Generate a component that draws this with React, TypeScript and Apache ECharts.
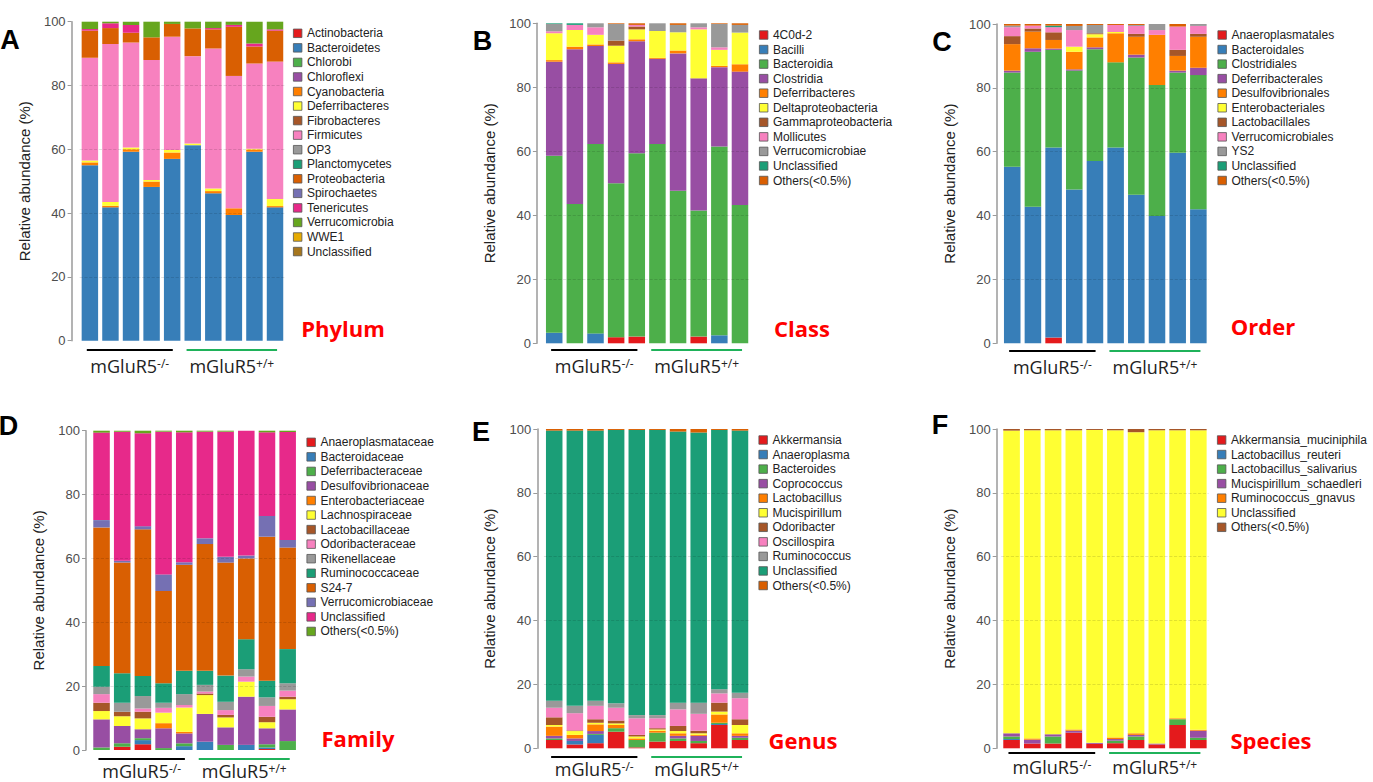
import React, { useEffect, useRef } from "react";
import * as echarts from "echarts";

// ---------------- data ----------------
const samples = ["KO1", "KO2", "KO3", "KO4", "KO5", "WT1", "WT2", "WT3", "WT4", "WT5"];
const groupSup = ["-/-", "+/+"];
const groupBase = "mGluR5";

const phylumTaxa = ["Actinobacteria", "Bacteroidetes", "Chlorobi", "Chloroflexi", "Cyanobacteria", "Deferribacteres", "Fibrobacteres", "Firmicutes", "OP3", "Planctomycetes", "Proteobacteria", "Spirochaetes", "Tenericutes", "Verrucomicrobia", "WWE1", "Unclassified"];
const phylumValues = [
  [0, 0, 0, 0, 0, 0, 0, 0, 0, 0],
  [55, 41.8, 59.2, 48.2, 57, 61.3, 46.2, 39.4, 59.2, 41.8],
  [0, 0, 0, 0, 0, 0, 0, 0, 0, 0],
  [0, 0, 0, 0, 0, 0, 0, 0, 0, 0],
  [0.9, 0.5, 0.8, 1.7, 2, 0, 0.7, 2.1, 0.7, 0.4],
  [0.6, 1.2, 0.6, 0.5, 0.8, 0.5, 0.8, 0, 0.3, 2.2],
  [0, 0, 0, 0, 0, 0, 0, 0, 0, 0],
  [32.2, 49.5, 32.9, 37.6, 35.5, 27.4, 43.9, 41.5, 26.7, 43.1],
  [0, 0, 0, 0, 0, 0, 0, 0, 0, 0],
  [0, 0, 0, 0, 0, 0, 0, 0, 0, 0],
  [8.5, 5.0, 3.0, 7.1, 4.0, 8.7, 6.0, 15.4, 5.3, 9.7],
  [0, 0, 0, 0, 0, 0, 0, 0, 0, 0],
  [0.5, 1.5, 2.5, 0, 0, 0, 0.4, 0.6, 1.0, 0.4],
  [2.3, 0.5, 1.0, 4.9, 0.7, 2.1, 2.0, 1.0, 6.8, 2.4],
  [0, 0, 0, 0, 0, 0, 0, 0, 0, 0],
  [0, 0, 0, 0, 0, 0, 0, 0, 0, 0],
];

const classTaxa = ["4C0d-2", "Bacilli", "Bacteroidia", "Clostridia", "Deferribacteres", "Deltaproteobacteria", "Gammaproteobacteria", "Mollicutes", "Verrucomicrobiae", "Unclassified", "Others(<0.5%)"];
const classValues = [
  [0, 0, 0, 1.9, 2.1, 0, 0, 2.1, 0, 0],
  [3.3, 0, 3.1, 0, 0, 0, 0, 0, 2.5, 0],
  [55.3, 43.5, 59.2, 48.1, 57.3, 62.3, 47.7, 39.4, 59, 43.2],
  [29.4, 48.4, 30.6, 37.3, 35.0, 26.6, 42.9, 41.3, 24.8, 41.7],
  [0.5, 0.8, 0.5, 0.5, 0.6, 0.3, 0.9, 0, 0.4, 2.3],
  [8.4, 5.2, 3.0, 5.2, 3.1, 8.4, 5.7, 15.3, 5.0, 9.9],
  [0, 0, 0, 1.6, 0.9, 0, 0, 0, 0, 0],
  [0.6, 1.6, 2.35, 0, 0.5, 0, 0, 0.65, 0.8, 0],
  [2.3, 0, 1.25, 5.2, 0, 2.4, 2.3, 1.25, 7.3, 2.4],
  [0.2, 0.5, 0, 0, 0, 0, 0, 0, 0, 0],
  [0, 0, 0, 0.2, 0.5, 0, 0.5, 0, 0.2, 0.5],
];

const orderTaxa = ["Anaeroplasmatales", "Bacteroidales", "Clostridiales", "Deferribacterales", "Desulfovibrionales", "Enterobacteriales", "Lactobacillales", "Verrucomicrobiales", "YS2", "Unclassified", "Others(<0.5%)"];
const orderValues = [
  [0, 0, 1.8, 0, 0, 0, 0, 0, 0, 0],
  [55.3, 42.8, 59.5, 48.2, 57.1, 61.3, 46.5, 39.9, 59.7, 42],
  [29.5, 48.5, 30.6, 37.2, 35.0, 26.7, 43.0, 41.0, 25.1, 42],
  [0.6, 1.1, 0.4, 0.4, 0.6, 0, 0.9, 0, 0.6, 2.3],
  [8.3, 5.2, 2.7, 5.5, 3.1, 9.1, 5.6, 15.7, 4.6, 9.7],
  [0, 0, 0, 1.6, 1.0, 0.4, 0, 0, 0, 0],
  [2.5, 1.0, 2.4, 0, 0.3, 0, 0.9, 0, 1.9, 0.9],
  [2.8, 0.9, 1.6, 5.2, 0, 2.2, 2.5, 1.5, 7.3, 2.5],
  [0.5, 0, 0, 1.3, 2.6, 0, 0.3, 1.9, 0, 0.6],
  [0, 0, 0.5, 0, 0, 0, 0, 0, 0, 0],
  [0.5, 0.5, 0.5, 0.6, 0.3, 0.3, 0.3, 0, 0.8, 0],
];

const familyTaxa = ["Anaeroplasmataceae", "Bacteroidaceae", "Deferribacteraceae", "Desulfovibrionaceae", "Enterobacteriaceae", "Lachnospiraceae", "Lactobacillaceae", "Odoribacteraceae", "Rikenellaceae", "Ruminococcaceae", "S24-7", "Verrucomicrobiaceae", "Unclassified", "Others(<0.5%)"];
const familyValues = [
  [0, 1.0, 1.8, 0, 0, 0, 0, 0, 0.3, 0],
  [0, 0, 1.3, 0, 1.2, 2.6, 0, 1.6, 0.5, 0],
  [0.8, 1.1, 0.6, 0.6, 0.9, 0, 1.6, 0, 1.0, 2.8],
  [8.8, 5.4, 2.8, 6.2, 3.1, 8.7, 5.5, 15.1, 5.0, 9.9],
  [0, 0, 0, 1.6, 0.5, 0, 0, 0, 0, 0],
  [2.6, 3.1, 3.4, 3.3, 7.6, 5.9, 3.1, 4.7, 1.9, 3.2],
  [2.6, 1.4, 2.1, 0, 0, 0.5, 0.8, 0, 1.7, 0.8],
  [2.7, 0, 1.0, 1.5, 0.8, 0.6, 1.5, 1.6, 3.4, 1.9],
  [2.3, 2.8, 3.9, 1.6, 3.4, 2.1, 2.6, 2.3, 2.7, 2.3],
  [6.5, 9.2, 6.3, 6.1, 7.3, 4.4, 8.2, 9.4, 5.2, 10.7],
  [43.4, 34.7, 45.9, 28.9, 33.2, 39.7, 35.4, 25.3, 45.1, 31.8],
  [2.3, 0.6, 1.0, 5.2, 0.8, 1.8, 1.8, 0.9, 6.5, 2.4],
  [27.4, 40.4, 29.1, 44.7, 40.7, 33.4, 39.2, 39.1, 26.2, 33.8],
  [0.6, 0.3, 0.8, 0.3, 0.5, 0.3, 0.3, 0, 0.5, 0.4],
];

const genusTaxa = ["Akkermansia", "Anaeroplasma", "Bacteroides", "Coprococcus", "Lactobacillus", "Mucispirillum", "Odoribacter", "Oscillospira", "Ruminococcus", "Unclassified", "Others(<0.5%)"];
const genusValues = [
  [2.6, 1.2, 1.6, 5.2, 0.3, 2.1, 2.3, 1.6, 7.3, 2.6],
  [0, 1.1, 2.6, 0, 0, 0, 0, 0, 0.3, 0],
  [0.5, 0, 0.3, 1.1, 2.3, 2.8, 0.8, 0.7, 0.4, 0.7],
  [0.8, 0.8, 0.9, 0, 0, 0, 0.8, 1.6, 0, 0.6],
  [2.9, 1.1, 2.1, 1.0, 0.5, 0.6, 0.8, 0.3, 2.6, 0.8],
  [0.5, 1.2, 0.5, 0.5, 0.6, 0.4, 0.7, 0.5, 0.9, 2.6],
  [2.4, 0.2, 1.1, 0.9, 0.5, 0.4, 1.6, 0.8, 2.8, 1.8],
  [3.0, 5.4, 4.2, 4.0, 5.2, 3.1, 5.2, 5.3, 2.9, 6.6],
  [2.2, 2.3, 1.6, 1.4, 1.0, 1.0, 2.1, 3.5, 1.3, 1.7],
  [84.6, 86.2, 84.6, 85.6, 89.3, 89.3, 84.9, 84.6, 81.2, 82.1],
  [0.5, 0.5, 0.5, 0.3, 0.3, 0.3, 0.8, 1.1, 0.3, 0.5],
];

const speciesTaxa = ["Akkermansia_muciniphila", "Lactobacillus_reuteri", "Lactobacillus_salivarius", "Mucispirillum_schaedleri", "Ruminococcus_gnavus", "Unclassified", "Others(<0.5%)"];
const speciesValues = [
  [2.6, 1.5, 1.5, 4.9, 1.4, 1.6, 2.6, 1.2, 7.3, 2.6],
  [0.3, 0, 0, 0, 0, 0, 0, 0, 0, 0],
  [0.8, 0, 2.2, 0, 0, 0.8, 1.1, 0, 1.8, 0.7],
  [1.0, 1.2, 0.7, 0.6, 0.3, 0.5, 0.5, 0.3, 0, 2.2],
  [0, 0.4, 0, 0.4, 0, 0.5, 0.5, 0, 0.3, 0.3],
  [94.8, 96.5, 95.2, 93.7, 98.0, 96.2, 94.3, 98.1, 90.2, 93.8],
  [0.5, 0.4, 0.4, 0.4, 0.3, 0.4, 1.0, 0.4, 0.4, 0.4],
];

const gridTicks = [20, 40, 60, 80];

// ---------------- styling / layout ----------------
const PALETTE = ["#E41A1C", "#377EB8", "#4DAF4A", "#984EA3", "#FF7F00", "#FFFF33", "#A65628", "#F781BF", "#999999", "#1B9E77", "#D95F02", "#7570B3", "#E7298A", "#66A61E", "#E6AB02", "#A6761D"];
const FONT = "'Liberation Sans', Arial, Helvetica, sans-serif";
const LABEL_FONT = "'Open Sans', 'Noto Sans', sans-serif";

const panels = [
  { letter: "A", title: "Phylum", taxa: phylumTaxa, values: phylumValues },
  { letter: "B", title: "Class", taxa: classTaxa, values: classValues },
  { letter: "C", title: "Order", taxa: orderTaxa, values: orderValues },
  { letter: "D", title: "Family", taxa: familyTaxa, values: familyValues },
  { letter: "E", title: "Genus", taxa: genusTaxa, values: genusValues },
  { letter: "F", title: "Species", taxa: speciesTaxa, values: speciesValues },
];

const layouts = [
  { left: 79.6, top: 21.7, width: 205.7, height: 319, offset: 8, lineY: 350, labelY: 366, legendLeft: 293, legendTop: 26.3, letter: [10, 39.5], tax: [343, 328] },
  { left: 543.9, top: 23.3, width: 206.4, height: 320, offset: 7, lineY: 350, labelY: 366, legendLeft: 759, legendTop: 28, letter: [482.5, 41], tax: [802, 328] },
  { left: 1001.9, top: 24, width: 206.8, height: 319.3, offset: 5.2, lineY: 351, labelY: 367, legendLeft: 1217.5, legendTop: 28, letter: [942, 42], tax: [1263, 326] },
  { left: 91.2, top: 430.7, width: 206.8, height: 319.3, offset: 5.2, lineY: 759, labelY: 771, legendLeft: 306.5, legendTop: 435.3, letter: [8.5, 425.5], tax: [358, 738] },
  { left: 543.9, top: 429, width: 206.4, height: 319.3, offset: 6.6, lineY: 757, labelY: 769, legendLeft: 758.5, legendTop: 433, letter: [481, 432], tax: [803, 740] },
  { left: 1001.2, top: 429, width: 207.5, height: 319.3, offset: 4.5, lineY: 753, labelY: 767, legendLeft: 1217, legendTop: 433, letter: [940, 425], tax: [1271, 740] },
];

function buildOption() {
  const grid: any[] = [];
  const xAxis: any[] = [];
  const yAxis: any[] = [];
  const legend: any[] = [];
  const series: any[] = [];
  const graphic: any[] = [];

  panels.forEach((p, i) => {
    const L = layouts[i];
    grid.push({ left: L.left, top: L.top, width: L.width, height: L.height });
    xAxis.push({
      type: "category",
      gridIndex: i,
      data: samples,
      axisLine: { show: false },
      axisTick: { show: false },
      axisLabel: { show: false },
      splitLine: { show: false },
    });
    yAxis.push({
      type: "value",
      gridIndex: i,
      min: 0,
      max: 100,
      interval: 20,
      offset: L.offset,
      name: "Relative abundance (%)",
      nameLocation: "middle",
      nameGap: 40,
      nameTextStyle: { fontSize: 15, color: "#222", fontFamily: FONT },
      axisLine: { show: true, lineStyle: { color: "#9a9a9a", width: 1.5 } },
      axisTick: { show: true, length: 4, lineStyle: { color: "#9a9a9a" } },
      axisLabel: { fontSize: 13, color: "#4d4d4d", margin: 6, fontFamily: FONT },
      splitLine: { show: false },
    });
    legend.push({
      orient: "vertical",
      left: L.legendLeft,
      top: L.legendTop,
      itemWidth: 8.5,
      itemHeight: 8.5,
      itemGap: 0.55,
      icon: "rect",
      selectedMode: false,
      padding: 0,
      data: p.taxa.map((t) => `${t}|${i}`),
      formatter: (n: string) => n.split("|")[0],
      textStyle: { fontSize: 12, color: "#222", lineHeight: 14, fontFamily: FONT },
      itemStyle: { borderColor: "#555", borderWidth: 0.8 },
    });
    p.taxa.forEach((t, j) => {
      const s: any = {
        type: "bar",
        name: `${t}|${i}`,
        xAxisIndex: i,
        yAxisIndex: i,
        stack: "s" + i,
        barCategoryGap: "20%",
        data: p.values[j],
        itemStyle: { color: PALETTE[j] },
        silent: true,
        emphasis: { disabled: true },
      };
      if (j === p.taxa.length - 1) {
        s.markLine = {
          silent: true,
          symbol: ["none", "none"],
          label: { show: false },
          lineStyle: { type: "dashed", color: "rgba(0,0,0,0.15)", width: 0.8 },
          data: gridTicks.map((v) => ({ yAxis: v })),
        };
      }
      series.push(s);
    });

    // panel letter
    graphic.push({
      type: "text",
      silent: true,
      style: {
        text: p.letter,
        x: L.letter[0],
        y: L.letter[1],
        align: "center",
        verticalAlign: "middle",
        textAlign: "center",
        textVerticalAlign: "middle",
        fontSize: 27,
        fontWeight: "bold",
        fontFamily: FONT,
        fill: "#000",
      },
    });
    // taxonomic level title
    graphic.push({
      type: "text",
      silent: true,
      style: {
        text: p.title,
        x: L.tax[0],
        y: L.tax[1],
        align: "center",
        verticalAlign: "middle",
        textAlign: "center",
        textVerticalAlign: "middle",
        fontSize: 22,
        fontWeight: "bold",
        fontFamily: LABEL_FONT,
        fill: "#ff0000",
      },
    });
    // group lines and labels
    const band = L.width / samples.length;
    const spans = [
      [0.35, 4.53, "#000000"],
      [5.2, 9.6, "#1fb25a"],
    ];
    spans.forEach((sp: any, g) => {
      const x1 = L.left + sp[0] * band;
      const x2 = L.left + sp[1] * band;
      graphic.push({
        type: "line",
        silent: true,
        shape: { x1, y1: L.lineY, x2, y2: L.lineY },
        style: { stroke: sp[2], lineWidth: 2 },
      });
      graphic.push({
        type: "text",
        silent: true,
        style: {
          text: `{b|${groupBase}}{s|${groupSup[g]}}`,
          x: (x1 + x2) / 2,
          y: L.labelY,
          align: "center",
          verticalAlign: "middle",
          textAlign: "center",
          textVerticalAlign: "middle",
          rich: {
            b: { fontSize: 18, lineHeight: 18, fontFamily: LABEL_FONT, fill: "#222", verticalAlign: "bottom" },
            s: { fontSize: 12, lineHeight: 12, fontFamily: LABEL_FONT, fill: "#222", verticalAlign: "top" },
          },
        },
      });
    });
  });

  return {
    animation: false,
    backgroundColor: "#ffffff",
    textStyle: { fontFamily: FONT },
    grid,
    xAxis,
    yAxis,
    legend,
    series,
    graphic,
  };
}

export default function App() {
  const ref = useRef<HTMLDivElement>(null);
  useEffect(() => {
    if (!ref.current) return;
    const chart = echarts.init(ref.current, undefined, { renderer: "svg" });
    chart.setOption(buildOption() as any);
    return () => chart.dispose();
  }, []);
  return (
    <div
      ref={ref}
      style={{ position: "fixed", left: 0, top: 0, width: 1373, height: 782, background: "#fff" }}
    />
  );
}
